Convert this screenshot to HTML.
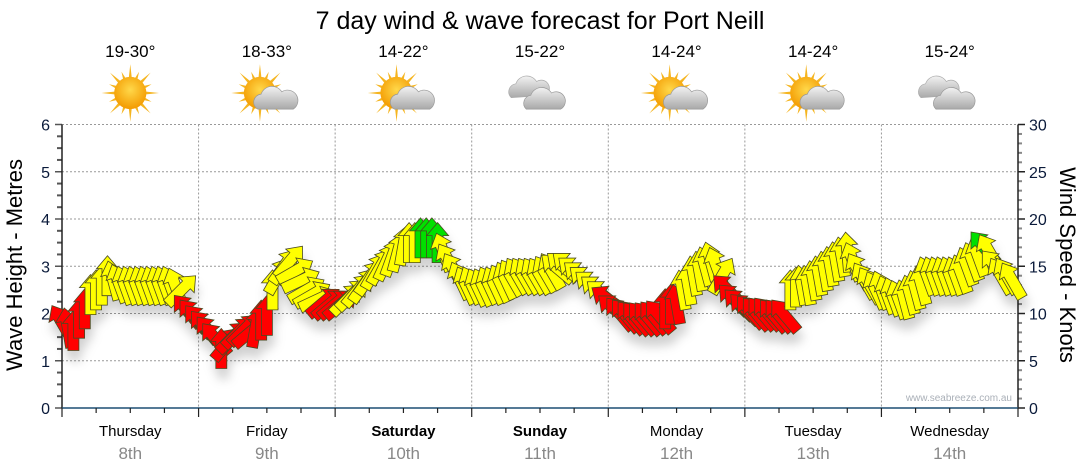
<!DOCTYPE html>
<html><head><meta charset="utf-8">
<style>
body{margin:0;background:#fff;width:1080px;height:475px;overflow:hidden;font-family:"Liberation Sans","DejaVu Sans",sans-serif;}
svg{display:block}
</style></head>
<body>
<svg id="chart" width="1080" height="475" viewBox="0 0 1080 475" xmlns="http://www.w3.org/2000/svg">
<defs>
<radialGradient id="sunG" cx="50%" cy="40%" r="60%"><stop offset="0" stop-color="#ffd84a"/><stop offset="1" stop-color="#f39a00"/></radialGradient>
<linearGradient id="cloudG" x1="0" y1="0" x2="0" y2="1"><stop offset="0" stop-color="#f2f2f2"/><stop offset="1" stop-color="#a9a9a9"/></linearGradient>
<filter id="shadow" x="-20%" y="-20%" width="140%" height="160%"><feDropShadow dx="2" dy="10" stdDeviation="5" flood-color="#000" flood-opacity="0.18"/></filter>
</defs>
<text x="540" y="29" font-size="25" text-anchor="middle" fill="#000">7 day wind &amp; wave forecast for Port Neill</text>
<g id="grid"></g>
<g id="axes"></g>
<g id="weather"></g>
<g id="arrows" filter="url(#shadow)"></g>
<text x="1012" y="401" font-size="10" text-anchor="end" fill="#aab0b8">www.seabreeze.com.au</text>
<text transform="translate(22,265) rotate(-90)" font-size="22" text-anchor="middle" fill="#000">Wave Height - Metres</text>
<text transform="translate(1060,265) rotate(90)" font-size="22" text-anchor="middle" fill="#000">Wind Speed - Knots</text>
</svg>
<script>
const days = ["Thursday","Friday","Saturday","Sunday","Monday","Tuesday","Wednesday"];
const dates = ["8th","9th","10th","11th","12th","13th","14th"];
const boldDays = [false,false,true,true,false,false,false];
const temps = ["19-30°","18-33°","14-22°","15-22°","14-24°","14-24°","15-24°"];
const icons = ["sun","suncloud","suncloud","cloud","suncloud","suncloud","cloud"];
const waveTicks = [0,1,2,3,4,5,6];
const windTicks = [0,5,10,15,20,25,30];
const windSpeed = [
9,8.5,8.2,9.5,10.5,12,12.5,13,14,13.5,13.2,13,13,13,13,13,13,13,13,13,12.8,12.5,10.3,9.8,
9.2,8.6,8,7.3,6.3,6.8,7.5,8,8.3,8,8.5,9.3,9.8,12.5,14,15,15.5,14.5,13.5,12.5,12,11.5,11.2,11,
11,11,11.5,12,12.5,13,13.8,14.5,15,15.5,16,16.5,17.2,17.5,17.5,18,18,18,17.5,16.5,15.5,14.5,13.5,13,
13,12.8,12.8,13,13,13.2,13.5,13.8,14,14,14,14,14,14.2,14.5,14.8,15,15,14.5,14,13.5,13,12.5,12,
11.5,10.5,10,9.8,9.6,9.5,9.5,9.5,9.6,9.7,10.5,11,11,12.5,13,14,14.5,15,15.5,15,14,12.5,11.5,11,
10.5,10.2,10,10,10,9.8,9.8,9.8,12.5,12.8,13,13,13.5,14,14.5,15,15.5,16,16.5,15.5,14.5,13.5,13,12.5,
12.5,12,11.8,11.5,11.5,12,12.5,13,14,14,14,14,14,14,14.2,15,15.5,16,17,16.5,15,14,14,13.5];
const windDir = [
-30,-10,0,0,0,0,0,0,0,-15,-20,-20,-20,-20,-20,-20,-20,-20,-20,-20,-20,45,-40,-40,
-40,-40,-40,-40,0,40,45,45,45,50,10,0,0,0,30,35,40,60,65,60,60,65,50,50,
50,50,45,45,40,35,35,30,30,25,20,15,10,0,0,0,0,0,0,-20,-30,-30,-25,-25,
-25,-25,-25,-25,-25,-25,-25,-30,-30,-30,-30,-30,-30,-30,-30,-50,-50,-50,-50,-50,-50,-50,-50,-50,
-55,-50,-40,-40,-40,-40,-40,-40,-40,-40,0,0,-10,-10,-10,-10,-10,-15,-15,-20,30,-45,-45,-45,
-45,-40,-40,-40,-40,-40,-40,-40,0,0,-10,-10,-10,-10,-10,-10,-10,-10,-5,-20,-30,-30,-30,-25,
-20,-20,-20,-20,-15,-15,-15,-15,-20,-20,-20,-20,-20,-20,-20,-20,-20,-20,-40,-30,-40,-30,-30,-30];
const windCat = "rrrrryyyyyyyyyyyyyyyyyrr"+"rrrrrrrrrrrrryyyyyyyyyrr"+"rryyyyyyyyyyyyyggggyyyyy"+"yyyyyyyyyyyyyyyyyyyyyyyy"+"rrrrrrrrrrrrryyyyyyyyrrr"+"rrrrrrrryyyyyyyyyyyyyyyy"+"yyyyyyyyyyyyyyyyyygyyyyy";

const NS="http://www.w3.org/2000/svg";
const L=62,R=1018,T=124.5,B=408,dayW=(R-L)/7;
const yWave=v=>B-(B-T)*v/6;
const yWind=v=>B-(B-T)*v/30;
const xHour=h=>L+h*dayW/24;
function mk(tag,attrs,parent){const e=document.createElementNS(NS,tag);for(const k in attrs)e.setAttribute(k,attrs[k]);parent.appendChild(e);return e;}
const grid=document.getElementById('grid'),axes=document.getElementById('axes'),weather=document.getElementById('weather'),arrows=document.getElementById('arrows');

waveTicks.forEach(v=>{
  if(v>0){const g=mk('line',{x1:L,x2:R,y1:yWave(v),y2:yWave(v),stroke:'#999','stroke-dasharray':'2,2','stroke-width':1},grid);
  
  }
  const t=mk('text',{x:50,y:yWave(v)+6,'font-size':16,'text-anchor':'end',fill:'#0a1a3a'},axes);
  t.textContent=v;
  
  
});
for(let i=0;i<=24;i++){const y=B-(B-T)*i/24;const major=i%4===0;
  mk('line',{x1:major?55:57,x2:L,y1:y,y2:y,stroke:'#555','stroke-width':major?1.5:2},axes);}
for(let i=0;i<=30;i++){const y=yWind(i);const major=i%5===0;
  mk('line',{x1:R,x2:major?1025:1022,y1:y,y2:y,stroke:major?'#222':'#888','stroke-width':major?1.5:2},axes);}
windTicks.forEach(v=>{
  const t=mk('text',{x:1029,y:yWind(v)+6,'font-size':16,fill:'#0a1a3a'},axes);
  t.textContent=v;
  
  
});
mk('line',{x1:L,x2:L,y1:T,y2:B,stroke:'#222','stroke-width':1.5},axes);
mk('line',{x1:R,x2:R,y1:T,y2:B,stroke:'#222','stroke-width':1.5},axes);
mk('line',{x1:L,x2:R,y1:B,y2:B,stroke:'#1d4f73','stroke-width':1.5},axes);
for(let q=0;q<=28;q++){const x=L+q*dayW/4;const major=q%4===0;
  mk('line',{x1:x,x2:x,y1:B,y2:major?417:413,stroke:'#222','stroke-width':1.2},axes);}
days.forEach((d,i)=>{
  const cx=L+dayW*(i+0.5);
  if(i>0){const g=mk('line',{x1:L+dayW*i,x2:L+dayW*i,y1:T,y2:B,stroke:'#999','stroke-dasharray':'2,2'},grid);
  
  }
  const t=mk('text',{x:cx,y:436,'font-size':15,'text-anchor':'middle',fill:'#000','font-weight':boldDays[i]?'bold':'normal'},axes);
  t.textContent=d;
  
  
  const s=mk('text',{x:cx,y:459,'font-size':17,'text-anchor':'middle',fill:'#888'},axes);
  s.textContent=dates[i];
  
  
  const tt=mk('text',{x:cx,y:57,'font-size':17,'text-anchor':'middle',fill:'#000'},weather);
  tt.textContent=temps[i];
  
  
  const g=mk('g',{transform:`translate(${cx},93) scale(1.15)`},weather);
  
  
  if(icons[i]!=='cloud'){
    const ox=icons[i]==='sun'?0:-6;
    for(let k=0;k<16;k++){const a=k*Math.PI/8;const r2=k%2?20:25;
      mk('polygon',{points:`${ox+Math.cos(a-0.12)*12},${Math.sin(a-0.12)*12} ${ox+Math.cos(a)*r2},${Math.sin(a)*r2} ${ox+Math.cos(a+0.12)*12},${Math.sin(a+0.12)*12}`,fill:'#f5b520'},g);}
    mk('circle',{cx:ox,cy:0,r:14,fill:'url(#sunG)'},g);
  }
  if(icons[i]==='suncloud'){
    mk('path',{d:'M-8,14 a7,7 0 0 1 3,-13 a10,10 0 0 1 18,-2 a8,8 0 0 1 10,15 z',fill:'url(#cloudG)',stroke:'#999','stroke-width':0.6},g);
  }
  if(icons[i]==='cloud'){
    mk('path',{d:'M-25,4 a7,7 0 0 1 4,-12 a10,10 0 0 1 18,-2 a7,7 0 0 1 8,12 z',fill:'url(#cloudG)',stroke:'#aaa','stroke-width':0.6},g);
    mk('path',{d:'M-12,14 a7,7 0 0 1 4,-12 a10,10 0 0 1 18,-2 a7,7 0 0 1 8,14 z',fill:'url(#cloudG)',stroke:'#999','stroke-width':0.6},g);
  }
});
const colors={r:'#ff0000',y:'#ffff00',g:'#00e000'};
const arrowPath='M0,-20 L11,-7 L5.5,-7 L5.5,20 L-5.5,20 L-5.5,-7 L-11,-7 Z';
windSpeed.forEach((v,h)=>{
  const p=mk('path',{d:arrowPath,transform:`translate(${xHour(h).toFixed(1)},${yWind(v).toFixed(1)}) rotate(${windDir[h]})`,fill:colors[windCat[h]],stroke:'#4a4a20','stroke-width':0.8,'stroke-linejoin':'miter'},arrows);
  
  
});
</script>
</body></html>
